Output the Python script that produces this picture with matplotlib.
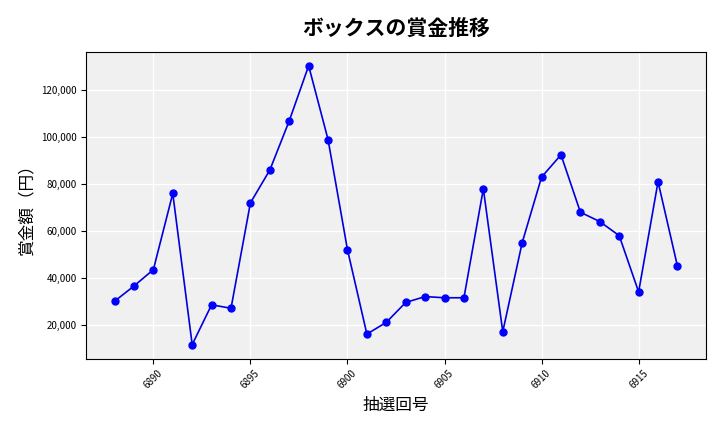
import matplotlib
matplotlib.use('Agg')
import matplotlib.pyplot as plt
from matplotlib.ticker import FuncFormatter

plt.rcParams['font.family'] = ['Noto Sans CJK JP', 'DejaVu Sans']

draws = list(range(6888, 6918))
prizes = [30000, 36500, 43500, 76000, 11500, 28500, 27000, 72000, 86000, 107000,
          130500, 99000, 52000, 16000, 21000, 29500, 32000, 31500, 31500, 78000,
          17000, 55000, 83000, 92500, 68000, 64000, 58000, 34000, 81000, 45000]

fig, ax = plt.subplots(figsize=(7.2, 4.32), dpi=100)
ax.set_facecolor('#f0f0f0')
ax.grid(True, color='white', linewidth=1)
ax.set_axisbelow(True)
ax.plot(draws, prizes, color='#0000dd', marker='o', markersize=5, linewidth=1.2,
        markerfacecolor='blue', markeredgecolor='blue')

ax.set_title('ボックスの賞金推移', fontsize=15, fontweight='bold', pad=12)
ax.set_xlabel('抽選回号', fontsize=12)
ax.set_ylabel('賞金額（円）', fontsize=12)
ax.yaxis.set_major_formatter(FuncFormatter(lambda v, p: f'{int(v):,}'))
ax.set_xticks([6890, 6895, 6900, 6905, 6910, 6915])
ax.tick_params(axis='x', labelrotation=45, labelsize=7)
ax.tick_params(axis='y', labelsize=7)

fig.subplots_adjust(left=0.12, right=0.98, top=0.88, bottom=0.17)
fig.savefig('out.png')
